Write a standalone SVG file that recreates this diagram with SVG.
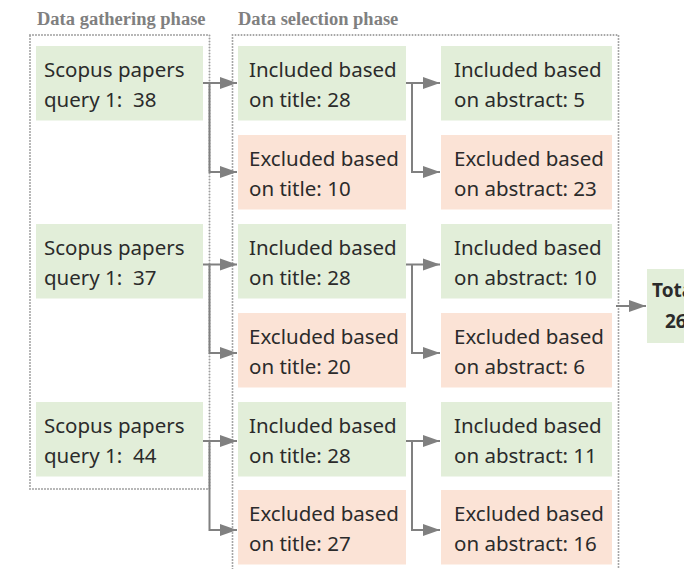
<svg xmlns="http://www.w3.org/2000/svg" width="684" height="569" viewBox="0 0 684 569">
  <defs>
    <style>
      .phase { fill: none; stroke: #a0a0a0; stroke-width: 2; stroke-dasharray: 0 3; stroke-linecap: round; }
      .head { font-family: "Liberation Serif", "DejaVu Serif", serif; font-size: 18.5px; font-weight: bold; fill: #808080; }
      .inc { fill: #e2eed9; }
      .exc { fill: #fbe3d6; }
      .lbl { font-family: "Noto Sans", "Liberation Sans", sans-serif; font-size: 20.5px; fill: #2b2b2b; white-space: pre; }
      .tot { font-family: "Noto Sans", "Liberation Sans", sans-serif; font-size: 19px; font-weight: bold; fill: #2b2b2b; }
      .conn { fill: none; stroke: #808080; stroke-width: 2; }
    </style>
    <marker id="arrow" markerUnits="userSpaceOnUse" markerWidth="18" markerHeight="14" refX="17" refY="7" orient="auto">
      <path d="M0,1 L17,7 L0,13 Z" fill="#808080"/>
    </marker>
  </defs>

  <!-- phase frames -->
  <g id="phase-gathering">
    <rect class="phase" x="30" y="35" width="179.5" height="454"/>
    <text class="head" x="37" y="25">Data gathering phase</text>
  </g>
  <g id="phase-selection">
    <path class="phase" d="M232.5,575 V35 H618.5 V575"/>
    <text class="head" x="238" y="25">Data selection phase</text>
  </g>

  <!-- query nodes -->
  <g id="query-1">
    <rect class="inc" x="36" y="46" width="167" height="74.5"/>
    <text class="lbl" x="44" y="76.5">Scopus papers</text>
    <text class="lbl" x="44" y="107" xml:space="preserve">query 1:  38</text>
  </g>
  <g id="query-2">
    <rect class="inc" x="36" y="224" width="167" height="74.5"/>
    <text class="lbl" x="44" y="254.5">Scopus papers</text>
    <text class="lbl" x="44" y="285" xml:space="preserve">query 1:  37</text>
  </g>
  <g id="query-3">
    <rect class="inc" x="36" y="402" width="167" height="74.5"/>
    <text class="lbl" x="44" y="432.5">Scopus papers</text>
    <text class="lbl" x="44" y="463" xml:space="preserve">query 1:  44</text>
  </g>

  <!-- title screening -->
  <g id="title-inc-1">
    <rect class="inc" x="238" y="46" width="168" height="74.5"/>
    <text class="lbl" x="249" y="76.5">Included based</text>
    <text class="lbl" x="249" y="107">on title: 28</text>
  </g>
  <g id="title-exc-1">
    <rect class="exc" x="238" y="135" width="168" height="74.5"/>
    <text class="lbl" x="249" y="165.5">Excluded based</text>
    <text class="lbl" x="249" y="196">on title: 10</text>
  </g>
  <g id="title-inc-2">
    <rect class="inc" x="238" y="224" width="168" height="74.5"/>
    <text class="lbl" x="249" y="254.5">Included based</text>
    <text class="lbl" x="249" y="285">on title: 28</text>
  </g>
  <g id="title-exc-2">
    <rect class="exc" x="238" y="313" width="168" height="74.5"/>
    <text class="lbl" x="249" y="343.5">Excluded based</text>
    <text class="lbl" x="249" y="374">on title: 20</text>
  </g>
  <g id="title-inc-3">
    <rect class="inc" x="238" y="402" width="168" height="74.5"/>
    <text class="lbl" x="249" y="432.5">Included based</text>
    <text class="lbl" x="249" y="463">on title: 28</text>
  </g>
  <g id="title-exc-3">
    <rect class="exc" x="238" y="490" width="168" height="74.5"/>
    <text class="lbl" x="249" y="520.5">Excluded based</text>
    <text class="lbl" x="249" y="551">on title: 27</text>
  </g>

  <!-- abstract screening -->
  <g id="abstract-inc-1">
    <rect class="inc" x="441" y="46" width="171" height="74.5"/>
    <text class="lbl" x="454" y="76.5">Included based</text>
    <text class="lbl" x="454" y="107">on abstract: 5</text>
  </g>
  <g id="abstract-exc-1">
    <rect class="exc" x="441" y="135" width="171" height="74.5"/>
    <text class="lbl" x="454" y="165.5">Excluded based</text>
    <text class="lbl" x="454" y="196">on abstract: 23</text>
  </g>
  <g id="abstract-inc-2">
    <rect class="inc" x="441" y="224" width="171" height="74.5"/>
    <text class="lbl" x="454" y="254.5">Included based</text>
    <text class="lbl" x="454" y="285">on abstract: 10</text>
  </g>
  <g id="abstract-exc-2">
    <rect class="exc" x="441" y="313" width="171" height="74.5"/>
    <text class="lbl" x="454" y="343.5">Excluded based</text>
    <text class="lbl" x="454" y="374">on abstract: 6</text>
  </g>
  <g id="abstract-inc-3">
    <rect class="inc" x="441" y="402" width="171" height="74.5"/>
    <text class="lbl" x="454" y="432.5">Included based</text>
    <text class="lbl" x="454" y="463">on abstract: 11</text>
  </g>
  <g id="abstract-exc-3">
    <rect class="exc" x="441" y="490" width="171" height="74.5"/>
    <text class="lbl" x="454" y="520.5">Excluded based</text>
    <text class="lbl" x="454" y="551">on abstract: 16</text>
  </g>

  <!-- total -->
  <g id="total">
    <rect class="inc" x="647" y="269" width="60" height="74"/>
    <text class="tot" x="652" y="297">Total</text>
    <text class="tot" x="665" y="328">26</text>
  </g>

  <!-- connectors -->
  <g id="connectors">
    <path class="conn" d="M203,83 H237" marker-end="url(#arrow)"/>
    <path class="conn" d="M209.5,83 V172 H237" marker-end="url(#arrow)"/>
    <path class="conn" d="M203,264.5 H237" marker-end="url(#arrow)"/>
    <path class="conn" d="M209.5,264.5 V353 H237" marker-end="url(#arrow)"/>
    <path class="conn" d="M203,441 H237" marker-end="url(#arrow)"/>
    <path class="conn" d="M209.5,441 V530 H237" marker-end="url(#arrow)"/>

    <path class="conn" d="M406,83 H440" marker-end="url(#arrow)"/>
    <path class="conn" d="M412,83 V172 H440" marker-end="url(#arrow)"/>
    <path class="conn" d="M406,264.5 H440" marker-end="url(#arrow)"/>
    <path class="conn" d="M412,264.5 V353 H440" marker-end="url(#arrow)"/>
    <path class="conn" d="M406,441 H440" marker-end="url(#arrow)"/>
    <path class="conn" d="M412,441 V530 H440" marker-end="url(#arrow)"/>

    <path class="conn" d="M616,306 H646" marker-end="url(#arrow)"/>
  </g>
</svg>
